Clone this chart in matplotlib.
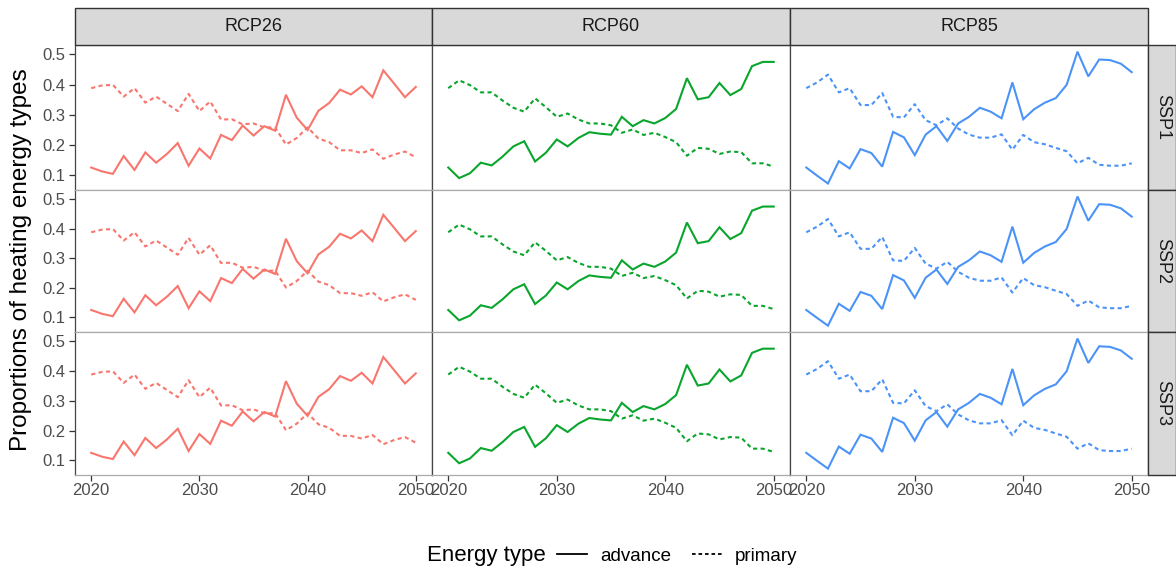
import matplotlib
matplotlib.use("Agg")
import matplotlib.pyplot as plt
from matplotlib.lines import Line2D
from matplotlib.patches import Rectangle

plt.rcParams['font.family'] = ['Liberation Sans', 'DejaVu Sans']

years = list(range(2020, 2051))

rcp26_advance = [0.125, 0.112, 0.104, 0.163, 0.117, 0.175, 0.141, 0.170, 0.206, 0.131,
                 0.188, 0.155, 0.233, 0.216, 0.264, 0.231, 0.262, 0.247, 0.366, 0.290,
                 0.249, 0.313, 0.339, 0.383, 0.367, 0.394, 0.358, 0.447, 0.403, 0.358, 0.392]
rcp26_primary = [0.388, 0.397, 0.399, 0.360, 0.388, 0.340, 0.360, 0.336, 0.312, 0.369,
                 0.312, 0.344, 0.284, 0.285, 0.268, 0.271, 0.258, 0.258, 0.201, 0.223,
                 0.258, 0.221, 0.209, 0.182, 0.182, 0.173, 0.185, 0.154, 0.168, 0.178, 0.159]
rcp60_advance = [0.125, 0.090, 0.106, 0.141, 0.132, 0.161, 0.195, 0.212, 0.145, 0.174,
                 0.218, 0.195, 0.223, 0.242, 0.237, 0.234, 0.293, 0.262, 0.282, 0.271,
                 0.289, 0.319, 0.421, 0.351, 0.358, 0.405, 0.365, 0.385, 0.461, 0.475, 0.475]
rcp60_primary = [0.388, 0.414, 0.398, 0.374, 0.374, 0.347, 0.323, 0.310, 0.354, 0.325,
                 0.293, 0.304, 0.284, 0.271, 0.271, 0.265, 0.240, 0.251, 0.233, 0.240,
                 0.226, 0.209, 0.164, 0.190, 0.187, 0.170, 0.178, 0.176, 0.139, 0.139, 0.128]
rcp85_advance = [0.125, 0.098, 0.072, 0.146, 0.122, 0.186, 0.173, 0.128, 0.243, 0.225,
                 0.166, 0.234, 0.262, 0.213, 0.271, 0.293, 0.323, 0.310, 0.288, 0.407,
                 0.285, 0.318, 0.340, 0.355, 0.399, 0.509, 0.427, 0.483, 0.481, 0.469, 0.441]
rcp85_primary = [0.388, 0.407, 0.433, 0.374, 0.388, 0.332, 0.332, 0.372, 0.293, 0.291,
                 0.335, 0.282, 0.265, 0.288, 0.254, 0.234, 0.224, 0.224, 0.235, 0.184,
                 0.233, 0.209, 0.202, 0.190, 0.179, 0.139, 0.157, 0.134, 0.131, 0.131, 0.139]

scenarios = ['RCP26', 'RCP60', 'RCP85']
ssps = ['SSP1', 'SSP2', 'SSP3']
advance = {'RCP26': rcp26_advance, 'RCP60': rcp60_advance, 'RCP85': rcp85_advance}
primary = {'RCP26': rcp26_primary, 'RCP60': rcp60_primary, 'RCP85': rcp85_primary}
colors = {'RCP26': '#F8766D', 'RCP60': '#0AA52C', 'RCP85': '#4B93F7'}

y_ticks = [0.1, 0.2, 0.3, 0.4, 0.5]
x_ticks = [2020, 2030, 2040, 2050]

W, H = 1176, 569
fig = plt.figure(figsize=(W / 100, H / 100), dpi=100)

col_edges = [75, 432, 790, 1148]
row_edges = [45, 190, 332, 475]
strip_top = 8
strip_right = 1176

tick_color = '#4D4D4D'
strip_fc = '#D9D9D9'

def fx(px):
    return px / W

def fy(py):
    return 1 - py / H

for r, ssp in enumerate(ssps):
    for c, sc in enumerate(scenarios):
        x0, x1 = col_edges[c], col_edges[c + 1]
        y0, y1 = row_edges[r], row_edges[r + 1]
        ax = fig.add_axes([fx(x0), fy(y1), fx(x1 - x0), (y1 - y0) / H])
        ax.plot(years, advance[sc], color=colors[sc], lw=1.5, solid_joinstyle='miter')
        ax.plot(years, primary[sc], color=colors[sc], lw=1.5, dashes=(2.0, 1.6))
        ax.set_xlim(2018.5, 2051.5)
        ax.set_ylim(0.0505, 0.531)
        ax.set_xticks(x_ticks)
        ax.set_yticks(y_ticks)
        for s in ['left', 'right']:
            ax.spines[s].set_color('#444444')
            ax.spines[s].set_linewidth(0.9)
        for s in ['top', 'bottom']:
            ax.spines[s].set_color('#AAAAAA')
            ax.spines[s].set_linewidth(0.9)
        ax.tick_params(axis='both', direction='out', length=4, width=0.9,
                       color='#333333', labelcolor=tick_color, labelsize=12, pad=3)
        if c != 0:
            ax.tick_params(axis='y', left=False, labelleft=False)
        else:
            ax.set_yticklabels(['0.1', '0.2', '0.3', '0.4', '0.5'])
        if r != 2:
            ax.tick_params(axis='x', bottom=False, labelbottom=False)
        else:
            ax.set_xticklabels([str(v) for v in x_ticks])
            ax.tick_params(axis='x', pad=2)

# top strips
for c, sc in enumerate(scenarios):
    x0, x1 = col_edges[c], col_edges[c + 1]
    fig.patches.append(Rectangle((fx(x0), fy(row_edges[0])), fx(x1 - x0),
                                 (row_edges[0] - strip_top) / H,
                                 transform=fig.transFigure, facecolor=strip_fc,
                                 edgecolor='#333333', lw=1.0, zorder=0))
    fig.text(fx((x0 + x1) / 2), fy((strip_top + row_edges[0]) / 2), sc,
             ha='center', va='center', fontsize=13, color='#1A1A1A')

# right strips
for r, ssp in enumerate(ssps):
    y0, y1 = row_edges[r], row_edges[r + 1]
    fig.patches.append(Rectangle((fx(col_edges[-1]), fy(y1)), fx(strip_right - col_edges[-1]),
                                 (y1 - y0) / H, transform=fig.transFigure,
                                 facecolor=strip_fc, edgecolor='#333333', lw=1.0, zorder=0))
    fig.text(fx((col_edges[-1] + 1176) / 2 + 1), fy((y0 + y1) / 2), ssp, rotation=-90,
             ha='center', va='center', fontsize=13, color='#1A1A1A')

# y label
fig.text(fx(21), fy((row_edges[0] + row_edges[-1]) / 2), 'Proportions of heating energy types',
         rotation=90, ha='center', va='center', fontsize=17.5, color='black')

# legend
fig.text(fx(427), fy(556), 'Energy type', ha='left', va='center', fontsize=16, color='black')
handles = [Line2D([], [], color='black', lw=1.3),
           Line2D([], [], color='black', lw=1.3, dashes=(2.0, 1.6))]
fig.legend(handles, ['advance', 'primary'], loc='center left', ncol=2,
           bbox_to_anchor=(fx(557), fy(556)), frameon=False, fontsize=13.5,
           handlelength=1.6, handletextpad=0.7, columnspacing=1.1, borderpad=0,
           borderaxespad=0)

fig.savefig('out.png', dpi=100)
